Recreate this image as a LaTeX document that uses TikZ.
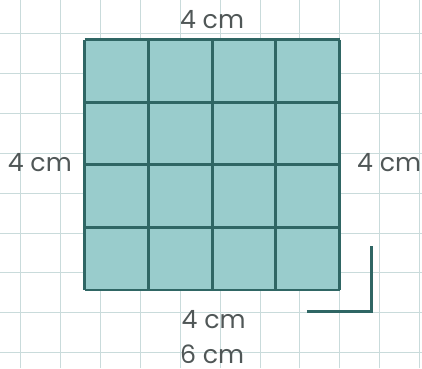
\documentclass[tikz,border=0pt]{standalone}
\usepackage{fontspec}
\setmainfont{Poppins}
\definecolor{gridline}{HTML}{C9DBDB}
\definecolor{tile}{HTML}{99CCCC}
\definecolor{edge}{HTML}{2F6664}
\definecolor{labelgray}{HTML}{505757}
\tikzset{len/.style={text=labelgray, font=\fontsize{18}{18}\selectfont, inner sep=0pt}}
\tikzset{thick edge/.style={edge, line width=2pt}}

\begin{document}
\begin{tikzpicture}[x=0.8cm, y=0.785cm]
    \useasboundingbox (-0.649, -0.492) rectangle (12.58, 11.265);
    \fill[white] (-0.649, -0.492) rectangle (12.58, 11.265);
    \draw[gridline, line width=0.6pt] (-0.649, -0.492) grid (12.58, 11.265);
    \fill[tile] (2, 2) rectangle (10, 10);
    \draw[thick edge, step=2] (2, 2) grid (10, 10);
    \node[len] (top) at (6, 10.63) {4 cm};
    \node[len] (left) at (0.6, 6.06) {4 cm};
    \node[len] (right) at (11.55, 6.06) {4 cm};
    \node[len] (bottom) at (6.05, 1.07) {4 cm};
    \node[len] (total) at (6, -0.05) {6 cm};
    \coordinate (Lstart) at (8.97, 1.3);
    \coordinate (Lcorner) at (11, 1.3);
    \coordinate (Lend) at (11, 3.4);
    \draw[thick edge, line width=2.2pt] (Lstart) -- (Lcorner) -- (Lend);
  \end{tikzpicture}
\end{document}
